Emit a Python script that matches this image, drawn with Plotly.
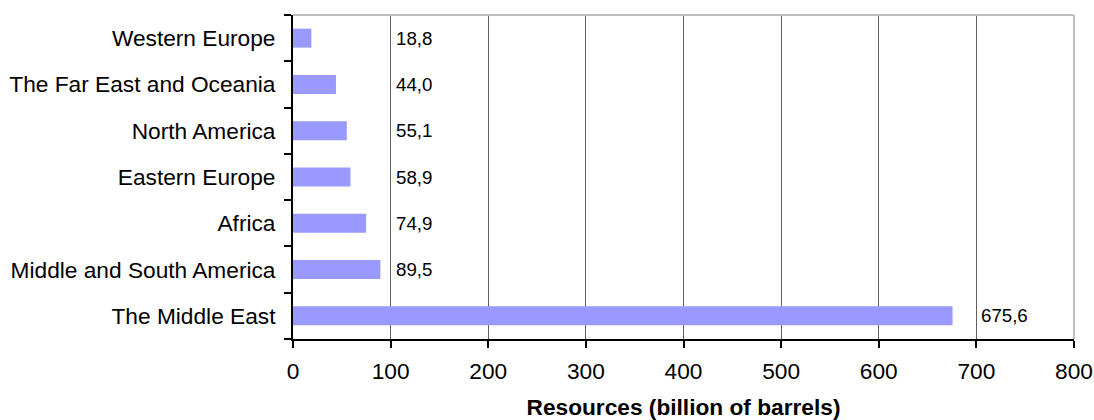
import math
import plotly.graph_objects as go

regions = ["The Middle East", "Middle and South America", "Africa", "Eastern Europe",
           "North America", "The Far East and Oceania", "Western Europe"]
values = [675.6, 89.5, 74.9, 58.9, 55.1, 44.0, 18.8]
labels = [f"{v:.1f}".replace(".", ",") for v in values]
x_ticks = [0, 100, 200, 300, 400, 500, 600, 700, 800]

FONT = "Liberation Sans, Arial, sans-serif"
BIG = 22.7

fig = go.Figure(go.Bar(
    x=values, y=regions, orientation="h",
    marker=dict(color="#9999FF", line=dict(width=0)),
    width=0.41,
))

annotations = []
for r, v, lab in zip(regions, values, labels):
    anchor = math.ceil(v / 100) * 100
    annotations.append(dict(x=anchor, y=r, xref="x", yref="y", text=lab,
                            showarrow=False, xanchor="left", xshift=3,
                            font=dict(family=FONT, size=18.7, color="black")))

fig.update_layout(
    width=1094, height=420,
    margin=dict(l=293, r=20, t=15, b=81),
    plot_bgcolor="white", paper_bgcolor="white",
    showlegend=False,
    annotations=annotations,
    font=dict(family=FONT, size=BIG, color="black"),
    shapes=[
        dict(type="line", xref="paper", yref="paper", x0=0, x1=1, y0=1, y1=1,
             line=dict(color="#C0C0C0", width=2)),
        dict(type="line", xref="paper", yref="paper", x0=1, x1=1, y0=0, y1=1,
             line=dict(color="#C0C0C0", width=2)),
    ],
    xaxis=dict(
        range=[0, 800], tickvals=x_ticks, ticktext=[str(t) for t in x_ticks],
        automargin=False,
        showgrid=True, gridcolor="#606060", gridwidth=1,
        showline=True, linecolor="black", linewidth=2,
        ticks="outside", ticklen=7, tickwidth=2, tickcolor="black",
        ticklabelstandoff=4,
        tickfont=dict(size=BIG, family=FONT),
        zeroline=False,
        title=dict(text="<b>Resources (billion of barrels)</b>",
                   font=dict(size=BIG, family=FONT), standoff=20),
    ),
    yaxis=dict(
        categoryorder="array", categoryarray=regions,
        range=[-0.5, 6.5],
        automargin=False,
        showline=True, linecolor="black", linewidth=2,
        ticks="outside", ticklen=7, tickwidth=2, tickcolor="black",
        tickson="boundaries",
        ticklabelstandoff=11,
        tickfont=dict(size=BIG, family=FONT),
        showgrid=False, zeroline=False,
    ),
)

fig.write_html("out.html")
